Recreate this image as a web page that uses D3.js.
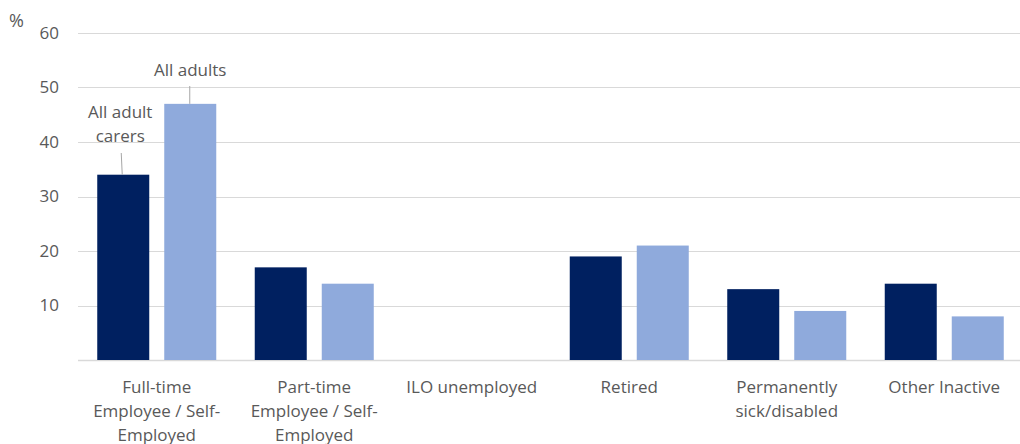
<!DOCTYPE html>
<html>
<head>
<meta charset="utf-8">
<script src="https://cdn.jsdelivr.net/npm/d3@7"></script>
<style>
  html, body { margin: 0; padding: 0; background: #fff; }
  svg { display: block; }
  text { font-family: "Open Sans", "Noto Sans", sans-serif; fill: #595959; }
</style>
</head>
<body>
<svg id="chart" width="1020" height="444"></svg>
<script>
const categories = [
  "Full-time Employee / Self-Employed",
  "Part-time Employee / Self-Employed",
  "ILO unemployed",
  "Retired",
  "Permanently sick/disabled",
  "Other Inactive"
];
const categoryLines = [
  ["Full-time", "Employee / Self-", "Employed"],
  ["Part-time", "Employee / Self-", "Employed"],
  ["ILO unemployed"],
  ["Retired"],
  ["Permanently", "sick/disabled"],
  ["Other Inactive"]
];
const seriesNames = ["All adult carers", "All adults"];
const carers = [34, 17, 0, 19, 13, 14];
const allAdults = [47, 14, 0, 21, 9, 8];
const yTicks = [10, 20, 30, 40, 50, 60];
const colors = ["#002060", "#8FAADC"];

const svg = d3.select("#chart");
const plotLeft = 78, plotRight = 1023, plotTop = 33, plotBottom = 360;
const FS = 17;

const x0 = d3.scaleBand().domain(categories).range([plotLeft, plotRight])
  .paddingInner(0.2444).paddingOuter(0.1222);
const x1 = d3.scaleBand().domain(seriesNames).range([0, x0.bandwidth()])
  .paddingInner(0.2239).paddingOuter(0);
const y = d3.scaleLinear().domain([0, 60]).range([plotBottom, plotTop]);

// gridlines
svg.append("g").selectAll("line").data(yTicks).join("line")
  .attr("x1", plotLeft).attr("x2", 1020)
  .attr("y1", d => Math.round(y(d)) + 0.5).attr("y2", d => Math.round(y(d)) + 0.5)
  .attr("stroke", "#d9d9d9").attr("stroke-width", 1);

// y axis labels
const yAxis = d3.axisLeft(y).tickValues(yTicks).tickSize(0).tickPadding(0);
const yg = svg.append("g").attr("transform", `translate(59,0)`).call(yAxis);
yg.select(".domain").remove();
yg.selectAll("text").attr("font-size", FS).style("fill", "#595959")
  .style("font-family", "'Open Sans', sans-serif");

// baseline
svg.append("line").attr("x1", plotLeft).attr("x2", 1020)
  .attr("y1", plotBottom + 0.5).attr("y2", plotBottom + 0.5)
  .attr("stroke", "#d9d9d9").attr("stroke-width", 1.5);

// bars
const data = categories.map((c, i) => ({ c, vals: [carers[i], allAdults[i]] }));
const groups = svg.append("g").selectAll("g").data(data).join("g")
  .attr("transform", d => `translate(${x0(d.c)},0)`);
groups.selectAll("rect").data(d => d.vals.map((v, j) => ({ s: seriesNames[j], v, j })))
  .join("rect")
  .attr("x", d => x1(d.s))
  .attr("width", x1.bandwidth())
  .attr("y", d => y(d.v))
  .attr("height", d => plotBottom - y(d.v))
  .attr("fill", d => colors[d.j]);

// x labels
const xl = svg.append("g");
categories.forEach((c, i) => {
  const cx = x0(c) + x0.bandwidth() / 2;
  const t = xl.append("text").attr("text-anchor", "middle").attr("font-size", FS)
    .attr("x", cx).attr("y", 393);
  categoryLines[i].forEach((line, k) => {
    t.append("tspan").attr("x", cx).attr("dy", k === 0 ? 0 : 24).text(line);
  });
});

// "%" label
svg.append("text").attr("x", 9).attr("y", 27).attr("font-size", 18).text("%");

// annotations for series (first category)
const c0 = categories[0];
const cxCarers = x0(c0) + x1(seriesNames[0]) + x1.bandwidth() / 2;
const cxAdults = x0(c0) + x1(seriesNames[1]) + x1.bandwidth() / 2;

svg.append("line").attr("x1", cxAdults - 0.5).attr("x2", cxAdults - 0.5)
  .attr("y1", 86).attr("y2", y(allAdults[0]))
  .attr("stroke", "#a6a6a6").attr("stroke-width", 1);
svg.append("text").attr("x", cxAdults).attr("y", 76).attr("text-anchor", "middle")
  .attr("font-size", FS).text("All adults");

svg.append("line").attr("x1", cxCarers - 2).attr("x2", cxCarers - 1)
  .attr("y1", 153).attr("y2", y(carers[0]))
  .attr("stroke", "#a6a6a6").attr("stroke-width", 1);
const tc = svg.append("text").attr("text-anchor", "middle").attr("font-size", FS)
  .attr("x", cxCarers - 3).attr("y", 118);
tc.append("tspan").attr("x", cxCarers - 3).attr("dy", 0).text("All adult");
tc.append("tspan").attr("x", cxCarers - 3).attr("dy", 24).text("carers");
</script>
</body>
</html>
